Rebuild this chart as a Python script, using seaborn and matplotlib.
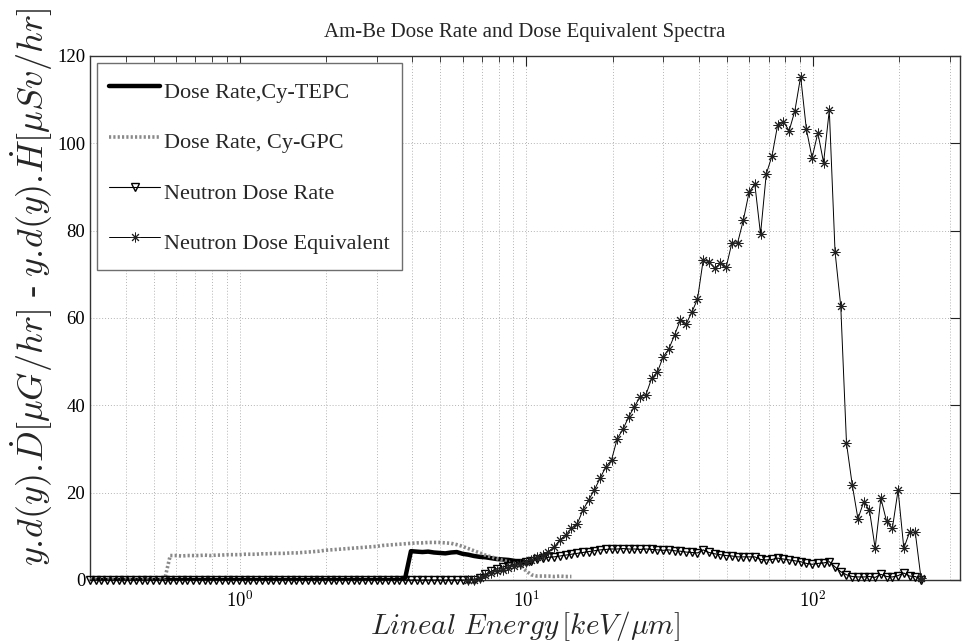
import numpy as np
import pandas as pd
import matplotlib
matplotlib.use("Agg")
import matplotlib.pyplot as plt
from matplotlib.ticker import LogLocator, NullFormatter, FixedLocator
import seaborn as sns

# Lineal energy binning: 50 logarithmic bins per decade, starting at 0.3 keV/um
BINS_PER_DECADE = 50
Y_START = 0.3
N_BINS = 146
lineal_energy = Y_START * 10 ** (np.arange(N_BINS) / BINS_PER_DECADE)

# Cylindrical TEPC dose rate (bins 0..77)
tepc_rate = [0.0] * 55 + [
    0.5, 6.6, 6.5, 6.4, 6.5, 6.3, 6.2, 6.1, 6.3, 6.4, 6.0, 5.8,
    5.5, 5.3, 5.2, 5.0, 4.8, 4.7, 4.6, 4.4, 4.2, 4.1, 4.0,
]

# Cylindrical GPC dose rate (bins 0..84)
gpc_rate = [0.0] * 14 + [
    5.6, 5.6, 5.5, 5.6, 5.6, 5.6, 5.7, 5.6, 5.7, 5.7,
    5.8, 5.8, 5.8, 5.9, 5.9, 5.9, 6.0, 6.0, 6.1, 6.1,
    6.1, 6.2, 6.2, 6.3, 6.4, 6.5, 6.6, 6.8, 6.9, 7.0,
    7.1, 7.2, 7.3, 7.4, 7.5, 7.6, 7.7, 7.9, 8.0, 8.1,
    8.2, 8.3, 8.4, 8.5, 8.5, 8.6, 8.6, 8.6, 8.5, 8.4,
    8.1, 7.7, 7.2, 6.7, 6.2, 5.7, 5.3, 4.9, 4.5, 4.2,
    3.8, 3.2, 2.2, 1.2, 0.9, 0.9, 0.9, 0.8, 0.9, 0.8,
    0.8,
]

# Neutron dose rate (bins 0..145)
neutron_rate = [0.0] * 68 + [
    0.4, 1.3, 2.0, 2.6, 3.0, 3.3, 3.6, 3.9, 4.1, 4.4,
    4.7, 5.0, 5.2, 5.3, 5.5, 5.7, 5.9, 6.1, 6.3, 6.5,
    6.7, 6.9, 7.0, 7.1, 7.1, 7.2, 7.1, 7.1, 7.0, 7.1,
    7.0, 6.9, 6.8, 6.9, 6.7, 6.6, 6.4, 6.3, 6.2, 6.9,
    6.3, 6.0, 5.8, 5.6, 5.5, 5.3, 5.3, 5.3, 5.3, 4.7,
    4.6, 4.7, 5.0, 4.8, 4.6, 4.4, 4.2, 3.8, 3.6, 3.8,
    3.9, 4.2, 3.0, 1.9, 1.2, 0.8, 0.7, 0.7, 0.8, 0.6,
    1.3, 0.8, 0.7, 1.0, 1.6, 0.9, 0.8, 0.1,
]

# Neutron dose equivalent (bins 66..145)
EQ_FIRST_BIN = 66
neutron_equiv = [
    0.0, 0.0, 0.4, 1.1, 1.6, 2.0, 2.4, 2.8, 3.2, 3.6,
    4.1, 4.6, 5.2, 5.7, 6.5, 7.6, 9.2, 10.3, 11.8, 12.8,
    16.0, 18.3, 20.6, 23.3, 25.9, 27.5, 32.4, 34.5, 37.4, 39.7,
    42.0, 42.4, 46.2, 47.6, 51.1, 52.9, 56.1, 59.5, 58.6, 61.3,
    64.3, 73.3, 72.9, 71.4, 72.5, 71.6, 77.2, 77.2, 82.4, 88.8,
    90.7, 79.2, 93.0, 97.1, 104.3, 104.9, 102.9, 107.5, 115.3, 103.2,
    96.7, 102.4, 95.6, 107.6, 75.2, 62.7, 31.3, 21.8, 14.0, 17.9,
    16.0, 7.3, 18.7, 13.4, 11.8, 20.6, 7.3, 10.9, 10.9, 0.4,
]

x_ticks_major = [1, 10, 100]
y_ticks = [0, 20, 40, 60, 80, 100, 120]

sns.set_theme(style="white")
plt.rcParams["font.family"] = ["Liberation Serif", "DejaVu Serif"]
plt.rcParams["mathtext.fontset"] = "cm"
plt.rcParams["axes.unicode_minus"] = False

fig = plt.figure(figsize=(9.74, 6.42), dpi=100)
ax = fig.add_axes([90 / 974, 1 - 580 / 642, 870 / 974, 524 / 642])

sns.lineplot(x=lineal_energy[:len(tepc_rate)], y=tepc_rate, ax=ax,
             color="black", linewidth=3.2, estimator=None, sort=False,
             label="Dose Rate,Cy-TEPC", zorder=3)
sns.lineplot(x=lineal_energy[:len(gpc_rate)], y=gpc_rate, ax=ax,
             color="#8a8a8a", linewidth=2.6, linestyle=(0, (0.6, 0.6)),
             estimator=None, sort=False,
             label="Dose Rate, Cy-GPC", zorder=3)
sns.lineplot(x=lineal_energy[:len(neutron_rate)], y=neutron_rate, ax=ax,
             color="black", linewidth=0.8, marker="v", markersize=6,
             markerfacecolor="none", markeredgecolor="black",
             markeredgewidth=1.0, estimator=None, sort=False,
             label="Neutron Dose Rate", zorder=4, clip_on=False)
sns.lineplot(x=lineal_energy[EQ_FIRST_BIN:EQ_FIRST_BIN + len(neutron_equiv)],
             y=neutron_equiv, ax=ax,
             color="black", linewidth=0.7, marker=(8, 2, 0), markersize=7,
             markerfacecolor="none", markeredgecolor="#222222",
             markeredgewidth=0.7, estimator=None, sort=False,
             label="Neutron Dose Equivalent", zorder=5, clip_on=False)

ax.set_xscale("log")
ax.set_xlim(0.3, 326)
ax.set_ylim(0, 120)
ax.set_yticks(y_ticks)
ax.xaxis.set_major_locator(FixedLocator(x_ticks_major))
ax.xaxis.set_minor_locator(LogLocator(base=10, subs=np.arange(2, 10)))
ax.xaxis.set_minor_formatter(NullFormatter())
ax.set_xticklabels([r"$10^{0}$", r"$10^{1}$", r"$10^{2}$"])

ax.grid(True, which="major", axis="both", linestyle=(0, (1, 2)),
        color="#b4b4b4", linewidth=0.7)
ax.grid(True, which="minor", axis="x", linestyle=(0, (1, 2)),
        color="#b4b4b4", linewidth=0.7)
ax.set_axisbelow(True)

ax.tick_params(which="both", direction="in", top=True, right=True,
               colors="#222222", labelcolor="black")
ax.tick_params(which="major", length=7, width=0.8, labelsize=13.5, pad=3.5)
ax.tick_params(which="minor", length=4, width=0.6)
ax.tick_params(axis="x", which="major", pad=7)
for sp in ax.spines.values():
    sp.set_color("#333333")
    sp.set_linewidth(1.0)

ax.set_title("Am-Be Dose Rate and Dose Equivalent Spectra", fontsize=15, pad=14)
ax.set_xlabel(r"$Lineal\ Energy\,[keV/\mu m]$", fontsize=21, labelpad=-1)
ax.set_ylabel(r"$y.\!d(y).\!\dot{D}[\mu G/hr]$ - $y.\!d(y).\!\dot{H}[\mu Sv/hr]$",
              fontsize=26)
ax.yaxis.set_label_coords(-0.04, 0.56)

leg = ax.legend(loc="upper left", bbox_to_anchor=(0.008, 0.987),
                borderaxespad=0, fontsize=16, frameon=True, fancybox=False,
                handlelength=2.3, handletextpad=0.15, labelspacing=0.85,
                handleheight=1.8, borderpad=0.55)
leg.get_frame().set_edgecolor("#6e6e6e")
leg.get_frame().set_linewidth(1.0)
leg.get_frame().set_alpha(1)

fig.savefig("out.png", dpi=100, facecolor="white")
